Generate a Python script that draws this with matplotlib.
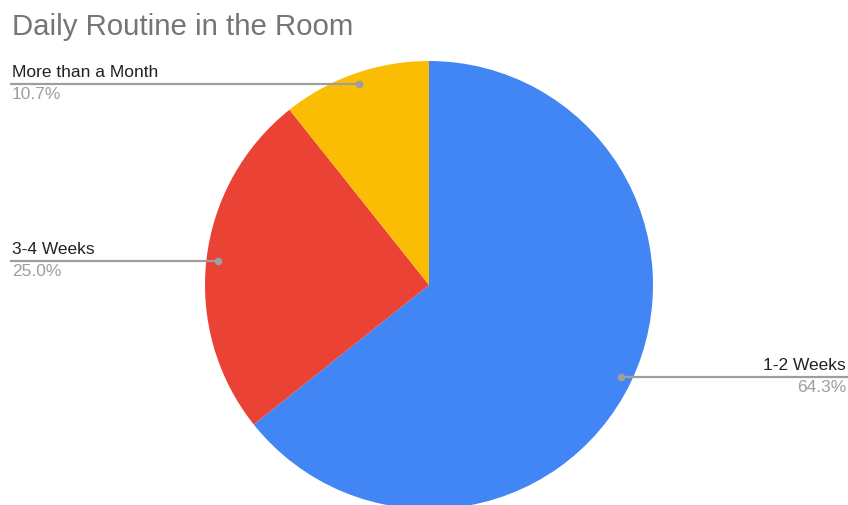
import numpy as np
import matplotlib.pyplot as plt

plt.rcParams["font.family"] = ["Liberation Sans", "DejaVu Sans"]

# slice data, clockwise from 12 o'clock
labels = ["1-2 Weeks", "3-4 Weeks", "More than a Month"]
shares = [64.3, 25.0, 10.7]
colors = ["#4285F4", "#EA4335", "#FBBC04"]

W, H = 848, 505
fig = plt.figure(figsize=(W / 100, H / 100), dpi=100)
ax = fig.add_axes([0, 0, 1, 1])

cx, cy, r = 429, H - 285, 224

wedges, _ = ax.pie(shares, colors=colors, startangle=90, counterclock=False,
                   radius=r, center=(cx, cy), frame=True,
                   wedgeprops=dict(linewidth=0))
ax.set_xlim(0, W)
ax.set_ylim(0, H)
ax.set_aspect("equal")
ax.axis("off")

fig.text(12 / W, 1 - 27 / H, "Daily Routine in the Room", fontsize=21.2,
         color="#757575", va="center", ha="left")

for w, lab, val in zip(wedges, labels, shares):
    mid = np.deg2rad((w.theta1 + w.theta2) / 2)
    px = cx + 0.95 * r * np.cos(mid)
    py = cy + 0.95 * r * np.sin(mid)
    if px > cx:
        x0, x1 = px, W
        tx, ha = W - 2, "right"
    else:
        x0, x1 = 10, px
        tx, ha = 12, "left"
    ax.plot([x0, x1], [py, py], color="#9e9e9e", lw=1.6, solid_capstyle="butt")
    ax.plot(px, py, "o", ms=4.5, color="#9e9e9e")
    ax.text(tx, py + 4, lab, fontsize=12.5, color="#222222", ha=ha, va="bottom")
    ax.text(tx, py - 3, f"{val:.1f}%", fontsize=12.5, color="#9e9e9e", ha=ha, va="top")

fig.savefig("out.png", dpi=100, facecolor="white")
